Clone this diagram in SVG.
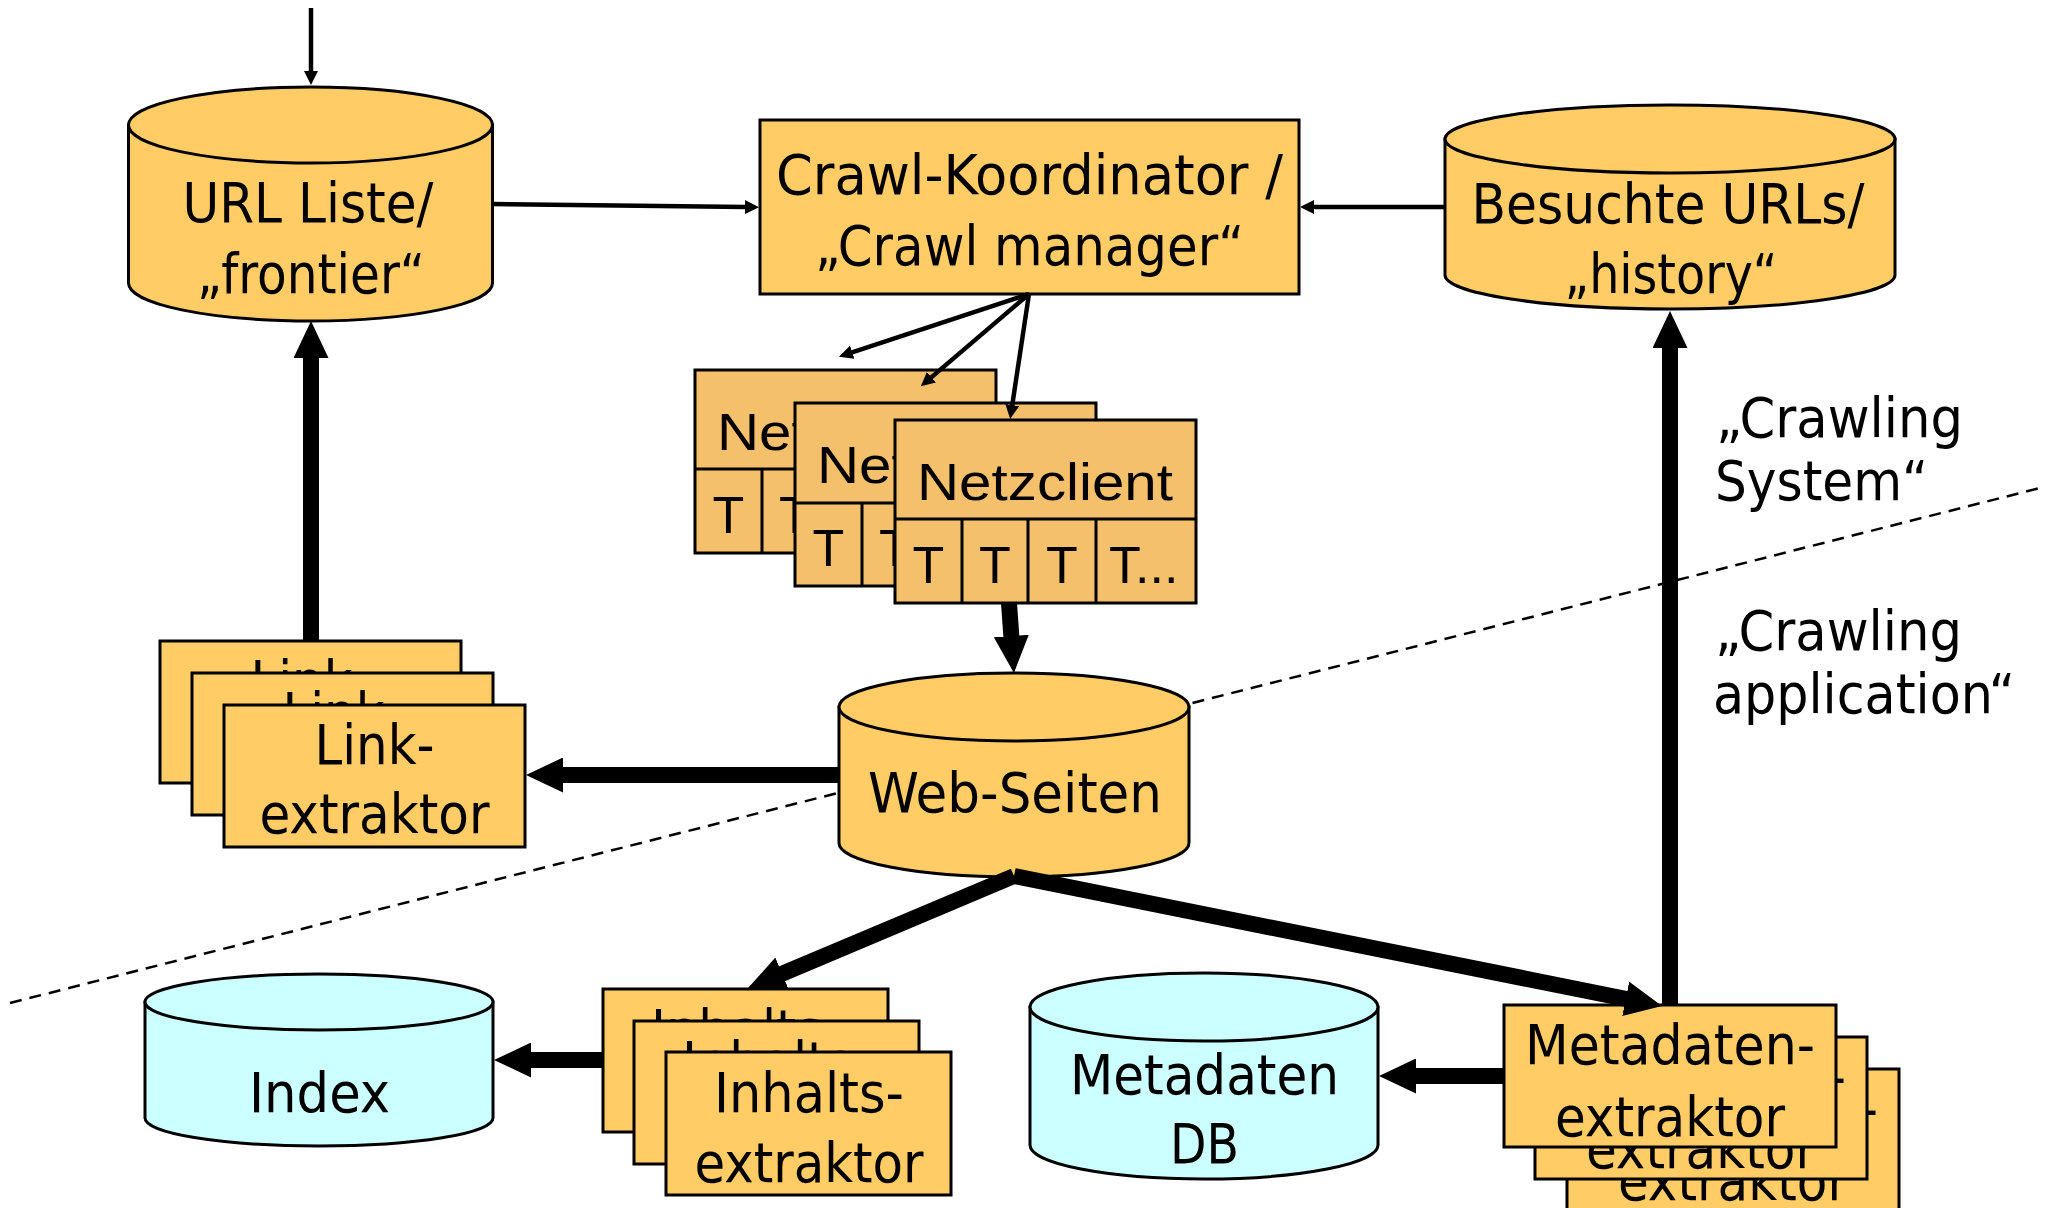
<svg xmlns="http://www.w3.org/2000/svg" width="2046" height="1208" viewBox="0 0 2046 1208">
<style>
.o{fill:#FFCC66;stroke:#000;stroke-width:3}
.n{fill:#F5C06B;stroke:#000;stroke-width:3}
.c{fill:#CCFFFF;stroke:#000;stroke-width:3}
.ln{stroke:#000;stroke-width:3;fill:none}
.t{font-family:"DejaVu Sans Condensed","DejaVu Sans",sans-serif;font-size:56px;fill:#000;text-anchor:middle}
.l{font-family:"DejaVu Sans Condensed","DejaVu Sans",sans-serif;font-size:56px;fill:#000}
.a{font-family:"Liberation Sans",Arial,sans-serif;font-size:52px;fill:#000}
.am{font-family:"Liberation Sans",Arial,sans-serif;font-size:52px;fill:#000;text-anchor:middle}
.thin{stroke:#000;stroke-width:4.5;fill:none;marker-end:url(#as)}
.thick{stroke:#000;stroke-width:16;fill:none;marker-end:url(#al)}
.dash{stroke:#000;stroke-width:2.5;fill:none;stroke-dasharray:12 8}
</style>
<defs>
<marker id="as" markerUnits="userSpaceOnUse" markerWidth="14" markerHeight="14" viewBox="0 0 14 14" refX="1" refY="7" orient="auto"><path d="M0,0 L14,7 L0,14 Z" fill="#000"/></marker>
<marker id="al" markerUnits="userSpaceOnUse" markerWidth="37" markerHeight="35" viewBox="0 0 37 35" refX="1" refY="17.5" orient="auto"><path d="M0,0 L37,17.5 L0,35 Z" fill="#000"/></marker>
</defs>
<rect width="2046" height="1208" fill="#fff"/>
<line class="dash" x1="10" y1="1003" x2="2040" y2="488"/>

<g id="url-liste">
<path class="o" d="M128.5,125 V283 A182,38 0 0 0 492.5,283 V125 Z"/>
<ellipse class="o" cx="310.5" cy="125" rx="182" ry="38"/>
<text class="t" x="308" y="222" textLength="251" lengthAdjust="spacingAndGlyphs">URL Liste/</text>
<text class="t" x="311" y="293" textLength="228" lengthAdjust="spacingAndGlyphs">„frontier“</text>
</g>

<g id="crawl-koordinator">
<rect class="o" x="760" y="120" width="539" height="174"/>
<text class="t" x="1029.5" y="194" textLength="507" lengthAdjust="spacingAndGlyphs">Crawl-Koordinator /</text>
<text class="t" x="1029.5" y="265" textLength="429" lengthAdjust="spacingAndGlyphs">„Crawl manager“</text>
</g>

<g id="besuchte-urls">
<path class="o" d="M1445,139 V275 A225,34 0 0 0 1895,275 V139 Z"/>
<ellipse class="o" cx="1670" cy="139" rx="225" ry="34"/>
<text class="t" x="1668" y="223" textLength="393" lengthAdjust="spacingAndGlyphs">Besuchte URLs/</text>
<text class="t" x="1671" y="293" textLength="213" lengthAdjust="spacingAndGlyphs">„history“</text>
</g>

<g id="netzclient-1">
<rect class="n" x="695" y="370" width="301" height="183"/>
<path class="ln" d="M695,469 H996 M762,469 V553 M828,469 V553 M896,469 V553"/>
<text class="a" x="717" y="450" textLength="256" lengthAdjust="spacingAndGlyphs">Netzclient</text>
<text class="am" x="728.5" y="533">T</text>
<text class="am" x="795" y="533">T</text>
<text class="am" x="862" y="533">T</text>
<text class="a" x="909" y="533">T...</text>
</g>
<g id="netzclient-2">
<rect class="n" x="795" y="403" width="301" height="183"/>
<path class="ln" d="M795,503 H1096 M862,503 V586 M928,503 V586 M996,503 V586"/>
<text class="a" x="817" y="483" textLength="256" lengthAdjust="spacingAndGlyphs">Netzclient</text>
<text class="am" x="828.5" y="566">T</text>
<text class="am" x="895" y="566">T</text>
<text class="am" x="962" y="566">T</text>
<text class="a" x="1009" y="566">T...</text>
</g>
<g id="netzclient-3">
<rect class="n" x="895" y="420" width="301" height="183"/>
<path class="ln" d="M895,519 H1196 M962,519 V603 M1028,519 V603 M1096,519 V603"/>
<text class="a" x="917" y="500" textLength="256" lengthAdjust="spacingAndGlyphs">Netzclient</text>
<text class="am" x="928.5" y="583">T</text>
<text class="am" x="995" y="583">T</text>
<text class="am" x="1062" y="583">T</text>
<text class="a" x="1109" y="583">T...</text>
</g>

<g id="link-extraktor-1">
<rect class="o" x="160" y="641" width="301" height="142"/>
<text class="t" x="310.5" y="700" textLength="120" lengthAdjust="spacingAndGlyphs">Link-</text>
<text class="t" x="310.5" y="769" textLength="230" lengthAdjust="spacingAndGlyphs">extraktor</text>
</g>
<g id="link-extraktor-2">
<rect class="o" x="192" y="673" width="301" height="142"/>
<text class="t" x="342.5" y="732" textLength="120" lengthAdjust="spacingAndGlyphs">Link-</text>
<text class="t" x="342.5" y="801" textLength="230" lengthAdjust="spacingAndGlyphs">extraktor</text>
</g>
<g id="link-extraktor-3">
<rect class="o" x="224" y="705" width="301" height="142"/>
<text class="t" x="374.5" y="764" textLength="120" lengthAdjust="spacingAndGlyphs">Link-</text>
<text class="t" x="374.5" y="833" textLength="230" lengthAdjust="spacingAndGlyphs">extraktor</text>
</g>

<g id="web-seiten">
<path class="o" d="M839,707 V843 A175,34 0 0 0 1189,843 V707 Z"/>
<ellipse class="o" cx="1014" cy="707" rx="175" ry="34"/>
<text class="t" x="1015" y="812" textLength="294" lengthAdjust="spacingAndGlyphs">Web-Seiten</text>
</g>

<g id="index">
<path class="c" d="M145,1002 V1118 A174,28 0 0 0 493,1118 V1002 Z"/>
<ellipse class="c" cx="319" cy="1002" rx="174" ry="28"/>
<text class="t" x="319.5" y="1112" textLength="141" lengthAdjust="spacingAndGlyphs">Index</text>
</g>

<g id="inhaltsextraktor-1">
<rect class="o" x="603" y="989" width="285" height="143"/>
<text class="t" x="746" y="1049" textLength="190" lengthAdjust="spacingAndGlyphs">Inhalts-</text>
<text class="t" x="746" y="1119" textLength="229" lengthAdjust="spacingAndGlyphs">extraktor</text>
</g>
<g id="inhaltsextraktor-2">
<rect class="o" x="634" y="1021" width="285" height="143"/>
<text class="t" x="777" y="1081" textLength="190" lengthAdjust="spacingAndGlyphs">Inhalts-</text>
<text class="t" x="777" y="1151" textLength="229" lengthAdjust="spacingAndGlyphs">extraktor</text>
</g>
<g id="inhaltsextraktor-3">
<rect class="o" x="666" y="1052" width="285" height="143"/>
<text class="t" x="809" y="1112" textLength="190" lengthAdjust="spacingAndGlyphs">Inhalts-</text>
<text class="t" x="809" y="1182" textLength="229" lengthAdjust="spacingAndGlyphs">extraktor</text>
</g>

<g id="metadaten-db">
<path class="c" d="M1030,1007 V1145 A174,34 0 0 0 1378,1145 V1007 Z"/>
<ellipse class="c" cx="1204" cy="1007" rx="174" ry="34"/>
<text class="t" x="1204.5" y="1094" textLength="269" lengthAdjust="spacingAndGlyphs">Metadaten</text>
<text class="t" x="1204.5" y="1163" textLength="69" lengthAdjust="spacingAndGlyphs">DB</text>
</g>

<g id="metadatenextraktor-3">
<rect class="o" x="1567" y="1069" width="332" height="142"/>
<text class="t" x="1733" y="1128" textLength="290" lengthAdjust="spacingAndGlyphs">Metadaten-</text>
<text class="t" x="1733" y="1200" textLength="230" lengthAdjust="spacingAndGlyphs">extraktor</text>
</g>
<g id="metadatenextraktor-2">
<rect class="o" x="1535" y="1037" width="332" height="142"/>
<text class="t" x="1701" y="1096" textLength="290" lengthAdjust="spacingAndGlyphs">Metadaten-</text>
<text class="t" x="1701" y="1168" textLength="230" lengthAdjust="spacingAndGlyphs">extraktor</text>
</g>
<g id="metadatenextraktor-1">
<rect class="o" x="1504" y="1005" width="332" height="142"/>
<text class="t" x="1670" y="1064" textLength="290" lengthAdjust="spacingAndGlyphs">Metadaten-</text>
<text class="t" x="1670" y="1136" textLength="230" lengthAdjust="spacingAndGlyphs">extraktor</text>
</g>

<g id="labels">
<text class="l" x="1716" y="437" textLength="247" lengthAdjust="spacingAndGlyphs">„Crawling</text>
<text class="l" x="1715" y="500" textLength="213" lengthAdjust="spacingAndGlyphs">System“</text>
<text class="l" x="1715" y="650" textLength="247" lengthAdjust="spacingAndGlyphs">„Crawling</text>
<text class="l" x="1713" y="713" textLength="302" lengthAdjust="spacingAndGlyphs">application“</text>
</g>

<g id="connectors">
<line class="thin" x1="311" y1="8" x2="311" y2="72"/>
<line class="thin" x1="492" y1="204" x2="746" y2="207"/>
<line class="thin" x1="1446" y1="207" x2="1313" y2="207"/>
<line class="thin" x1="1029" y1="294" x2="851.3" y2="352.6"/>
<line class="thin" x1="1029" y1="294" x2="930.7" y2="377.9"/>
<line class="thin" x1="1029" y1="294" x2="1012.1" y2="406.1"/>
<line class="thick" x1="311" y1="641" x2="311" y2="357"/>
<line class="thick" x1="839" y1="775" x2="562" y2="775"/>
<line class="thick" x1="1009" y1="603" x2="1011.4" y2="637"/>
<line class="thick" x1="1014" y1="876" x2="781.2" y2="974.1"/>
<line class="thick" x1="1014" y1="876" x2="1626.7" y2="999"/>
<line class="thick" x1="603" y1="1060" x2="530" y2="1060"/>
<line class="thick" x1="1504" y1="1076" x2="1415" y2="1076"/>
<line class="thick" x1="1670" y1="1005" x2="1670" y2="347"/>
</g>
</svg>
